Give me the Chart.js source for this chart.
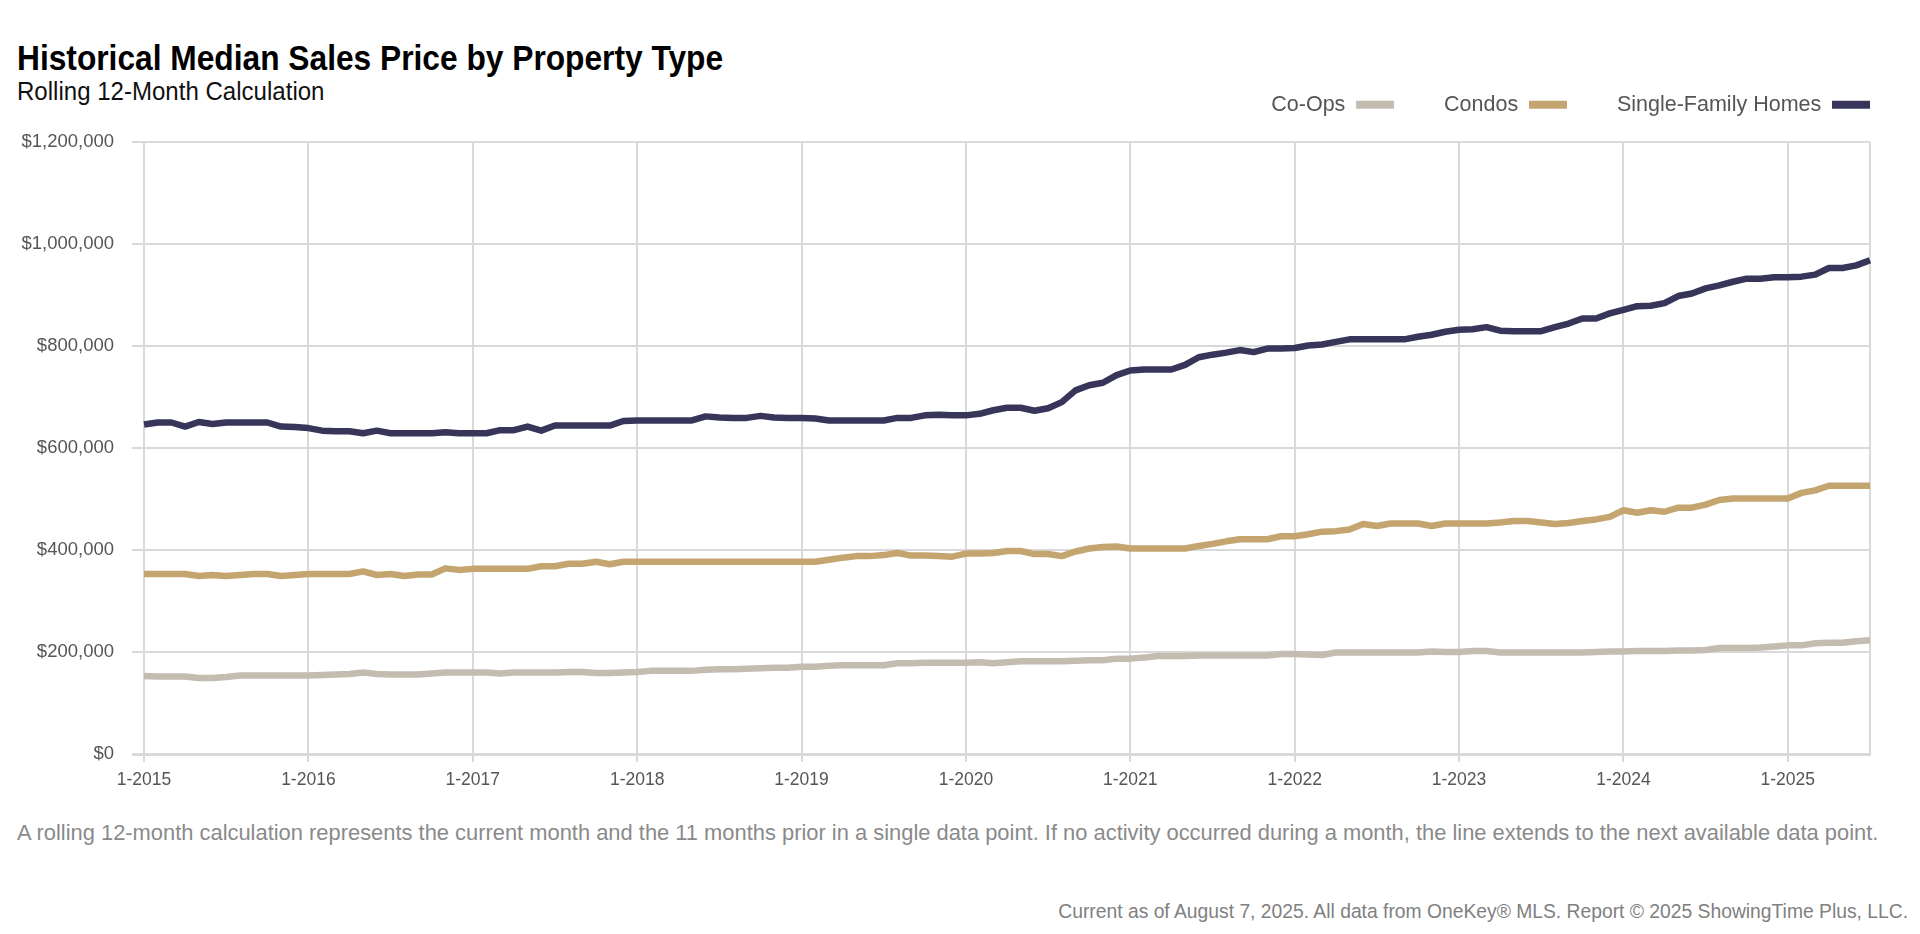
<!DOCTYPE html>
<html>
<head>
<meta charset="utf-8">
<title>Historical Median Sales Price by Property Type</title>
<script src="https://cdn.jsdelivr.net/npm/chart.js@4.4.1/dist/chart.umd.min.js"></script>
<style>
  html, body { margin: 0; padding: 0; background: #fff; width: 1920px; height: 934px; overflow: hidden; }
  .txt { position: absolute; white-space: nowrap; font-family: 'Liberation Sans', Arial, sans-serif; }
  /* no condensed face installed, so squeeze the headings a little */
  #title { left: 17px; top: 40px; font-size: 35px; line-height: 35px; font-weight: bold; color: #000; transform: scaleX(0.906); transform-origin: left top; }
  #subtitle { left: 17px; top: 79px; font-size: 25px; line-height: 25px; color: #111; transform: scaleX(0.962); transform-origin: left top; }
  #chartBox { position: absolute; left: 0; top: 44px; width: 1920px; height: 754px; }
  #note { left: 17px; top: 822px; font-size: 21.9px; line-height: 22px; color: #8a8a8a; }
  #credit { right: 12px; top: 902px; font-size: 19.3px; line-height: 20px; color: #808080; }
</style>
</head>
<body>
<div id="title" class="txt">Historical Median Sales Price by Property Type</div>
<div id="subtitle" class="txt">Rolling 12-Month Calculation</div>
<div id="chartBox"><canvas id="priceChart"></canvas></div>
<div id="note" class="txt">A rolling 12-month calculation represents the current month and the 11 months prior in a single data point. If no activity occurred during a month, the line extends to the next available data point.</div>
<div id="credit" class="txt">Current as of August 7, 2025. All data from OneKey® MLS. Report © 2025 ShowingTime Plus, LLC.</div>

<script>
// Categories: monthly points from 1-2015 through 7-2025
const years = [2015, 2016, 2017, 2018, 2019, 2020, 2021, 2022, 2023, 2024, 2025];
const lastMonth = 7;
const seriesNames = ['Co-Ops', 'Condos', 'Single-Family Homes'];

// Median sales price, rolling 12 months, in $ thousands
const coOpsK = [
  153, 152, 152, 152, 149, 149, 151, 154, 154, 154, 154, 154,
  154, 155, 156, 157, 160, 157, 156, 156, 156, 158, 160, 160,
  160, 160, 158, 160, 160, 160, 160, 161, 161, 159, 159, 160,
  161, 163, 163, 163, 163, 165, 166, 166, 167, 168, 169, 169,
  171, 171, 173, 174, 174, 174, 174, 178, 178, 179, 179, 179,
  179, 180, 178, 180, 182, 182, 182, 182, 183, 184, 184, 187,
  187, 189, 192, 192, 192, 193, 193, 193, 193, 193, 193, 196,
  196, 195, 194, 199, 199, 199, 199, 199, 199, 199, 201, 200,
  200, 202, 202, 199, 199, 199, 199, 199, 199, 199, 200, 201,
  201, 202, 202, 202, 203, 203, 204, 208, 208, 208, 209, 211,
  213, 213, 217, 218, 218, 221, 223
];
const condosK = [
  353, 353, 353, 353, 349, 351, 349, 351, 353, 353, 349, 351,
  353, 353, 353, 353, 358, 351, 353, 349, 352, 352, 364, 361,
  363, 363, 363, 363, 363, 368, 368, 373, 373, 377, 372, 377,
  377, 377, 377, 377, 377, 377, 377, 377, 377, 377, 377, 377,
  377, 377, 381, 385, 388, 388, 390, 394, 389, 389, 388, 387,
  393, 393, 394, 398, 398, 392, 392, 388, 397, 403, 406, 407,
  403, 403, 403, 403, 403, 408, 412, 417, 421, 421, 421, 427,
  427, 431, 436, 437, 440, 451, 447, 452, 452, 452, 447, 452,
  452, 452, 452, 454, 457, 457, 454, 451, 453, 457, 460, 465,
  478, 473, 478, 475, 483, 483, 489, 498, 501, 501, 501, 501,
  501, 512, 517, 526, 526, 526, 526
];
const singleFamilyK = [
  646, 650, 650, 642, 651, 647, 650, 650, 650, 650, 642, 641,
  639, 634, 633, 633, 629, 634, 629, 629, 629, 629, 631, 629,
  629, 629, 635, 635, 642, 634, 644, 644, 644, 644, 644, 653,
  654, 654, 654, 654, 654, 662, 660, 659, 659, 663, 660, 659,
  659, 658, 654, 654, 654, 654, 654, 659, 659, 664, 665, 664,
  664, 667, 674, 679, 679, 673, 678, 690, 713, 723, 728, 743,
  752, 754, 754, 754, 763, 778, 783, 787, 792, 788, 795, 795,
  796, 801, 803, 808, 813, 813, 813, 813, 813, 818, 822, 828,
  832, 833, 837, 830, 829, 829, 829, 837, 844, 854, 854, 864,
  871, 878, 879, 884, 898, 903, 913, 919, 926, 932, 932, 935,
  935, 936, 940, 953, 953, 958, 968
];

// Y axis ticks
const yMin = 0;
const yMax = 1200000;
const yStep = 200000;

const seriesColors = ['#c4bcb1', '#c4a46f', '#38355a'];
const gridColor = '#d9d9d9';

// Build month labels like "1-2015"
const monthLabels = [];
years.forEach(function (yr) {
  for (let m = 1; m <= 12; m++) {
    if (yr === years[years.length - 1] && m > lastMonth) break;
    monthLabels.push(m + '-' + yr);
  }
});
const lastIndex = monthLabels.length - 1;
const isJanuary = i => monthLabels[i] && monthLabels[i].startsWith('1-');

function makeDataset(name, valuesK, color) {
  return {
    label: name,
    data: valuesK.map(v => v * 1000),
    borderColor: color,
    backgroundColor: color,
    borderWidth: 6.5,
    pointRadius: 0,
    pointHoverRadius: 0,
    tension: 0,
    fill: false,
    borderJoinStyle: 'round'
  };
}

// Leave room between the legend and the plot
const legendGap = {
  id: 'legendGap',
  beforeInit(chart) {
    if (!chart.legend) return;
    const baseFit = chart.legend.fit;
    chart.legend.fit = function () {
      baseFit.call(this);
      this.height += 16.5;
    };
  }
};

Chart.defaults.font.family = "'Liberation Sans', Arial, sans-serif";
Chart.defaults.color = '#555';

const ctx = document.getElementById('priceChart').getContext('2d');
const priceChart = new Chart(ctx, {
  type: 'line',
  data: {
    labels: monthLabels,
    datasets: [
      makeDataset(seriesNames[0], coOpsK, seriesColors[0]),
      makeDataset(seriesNames[1], condosK, seriesColors[1]),
      makeDataset(seriesNames[2], singleFamilyK, seriesColors[2])
    ]
  },
  options: {
    responsive: true,
    maintainAspectRatio: false,
    animation: false,
    layout: { padding: 0 },
    plugins: {
      legend: {
        position: 'top',
        align: 'start',
        rtl: true,
        reverse: true,
        labels: {
          boxWidth: 38,
          boxHeight: 8,
          padding: 50,
          color: '#555',
          font: { size: 21.5 },
          generateLabels: function (chart) {
            return Chart.defaults.plugins.legend.labels.generateLabels(chart)
              .map(item => Object.assign(item, { lineWidth: 0 }));
          }
        }
      },
      tooltip: { enabled: false }
    },
    scales: {
      x: {
        offset: false,
        grid: {
          color: c => (isJanuary(c.index) || c.index === lastIndex) ? gridColor : 'rgba(0,0,0,0)',
          tickColor: c => isJanuary(c.index) ? gridColor : 'rgba(0,0,0,0)',
          lineWidth: 2,
          tickLength: 8
        },
        border: { display: true, color: gridColor, width: 3 },
        ticks: {
          autoSkip: false,
          maxRotation: 0,
          padding: 8,
          color: '#555',
          font: { size: 17.5 },
          callback: function (val, i) { return isJanuary(i) ? monthLabels[i] : ''; }
        },
        afterFit: s => { s.height = 44; }
      },
      y: {
        min: yMin,
        max: yMax,
        grid: {
          color: gridColor,
          lineWidth: c => (c.index === 0 ? 3 : 2),
          tickLength: 12,
          tickColor: gridColor
        },
        border: { display: false },
        ticks: {
          stepSize: yStep,
          padding: 18,
          color: '#555',
          font: { size: 18.5 },
          callback: v => '$' + Number(v).toLocaleString('en-US')
        },
        afterFit: s => { s.width = 144; }
      },
      yRight: {
        position: 'right',
        grid: { display: false },
        border: { display: false },
        ticks: { display: false },
        afterFit: s => { s.width = 50; }
      }
    }
  },
  plugins: [legendGap]
});
</script>
</body>
</html>
